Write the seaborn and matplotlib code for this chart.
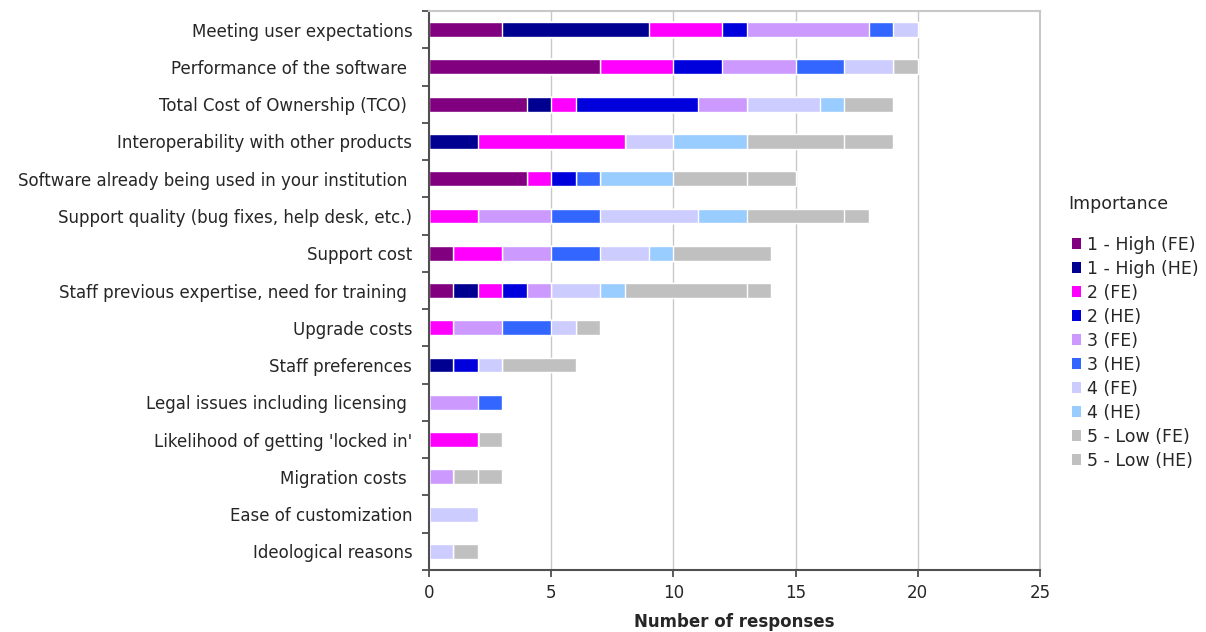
import numpy as np
import pandas as pd
import matplotlib
matplotlib.use("Agg")
import matplotlib.pyplot as plt
from matplotlib.patches import Patch
from matplotlib.ticker import FixedLocator
import seaborn as sns

categories = [
    "Meeting user expectations",
    "Performance of the software ",
    "Total Cost of Ownership (TCO) ",
    "Interoperability with other products",
    "Software already being used in your institution ",
    "Support quality (bug fixes, help desk, etc.)",
    "Support cost",
    "Staff previous expertise, need for training ",
    "Upgrade costs",
    "Staff preferences",
    "Legal issues including licensing ",
    "Likelihood of getting 'locked in'",
    "Migration costs ",
    "Ease of customization",
    "Ideological reasons",
]

series = ["1 - High (FE)", "1 - High (HE)", "2 (FE)", "2 (HE)", "3 (FE)",
          "3 (HE)", "4 (FE)", "4 (HE)", "5 - Low (FE)", "5 - Low (HE)"]

high_fe = [3, 7, 4, 0, 4, 0, 1, 1, 0, 0, 0, 0, 0, 0, 0]
high_he = [6, 0, 1, 2, 0, 0, 0, 1, 0, 1, 0, 0, 0, 0, 0]
two_fe = [3, 3, 1, 6, 1, 2, 2, 1, 1, 0, 0, 2, 0, 0, 0]
two_he = [1, 2, 5, 0, 1, 0, 0, 1, 0, 1, 0, 0, 0, 0, 0]
three_fe = [5, 3, 2, 0, 0, 3, 2, 1, 2, 0, 2, 0, 1, 0, 0]
three_he = [1, 2, 0, 0, 1, 2, 2, 0, 2, 0, 1, 0, 0, 0, 0]
four_fe = [1, 2, 3, 2, 0, 4, 2, 2, 1, 1, 0, 0, 0, 2, 1]
four_he = [0, 0, 1, 3, 3, 2, 1, 1, 0, 0, 0, 0, 0, 0, 0]
low_fe = [0, 1, 2, 4, 3, 4, 4, 5, 1, 3, 0, 1, 1, 0, 1]
low_he = [0, 0, 0, 2, 2, 1, 0, 1, 0, 0, 0, 0, 1, 0, 0]

colors = ["#800080", "#000090", "#FF00FF", "#0000DD", "#CC99FF",
          "#3366FF", "#CCCCFF", "#99CCFF", "#C0C0C0", "#C0C0C0"]

values = [high_fe, high_he, two_fe, two_he, three_fe,
          three_he, four_fe, four_he, low_fe, low_he]

# cumulative sums for stacked drawing
cum = np.cumsum(np.array(values), axis=0)
rows = []
for si, s in enumerate(series):
    for ci, c in enumerate(categories):
        rows.append({"category": c, "series": s, "cum": cum[si, ci]})
df = pd.DataFrame(rows)

sns.set_style("white")
plt.rcParams["font.family"] = ["DejaVu Sans"]

fig = plt.figure(figsize=(12.06, 6.32), dpi=100)
ax = fig.add_axes([429 / 1206, 1 - 570 / 632, (1040 - 429) / 1206, (570 - 11) / 632])

ax.set_axisbelow(True)
for v in [5, 10, 15, 20]:
    ax.axvline(v, color="#C8C8C8", lw=1.0, zorder=0)

palette = dict(zip(series, colors))
sns.barplot(data=df, y="category", x="cum", hue="series",
            hue_order=series[::-1], order=categories, palette=palette,
            dodge=False, width=0.4, orient="h", ax=ax, legend=False,
            edgecolor="white", linewidth=1.0, saturation=1, errorbar=None)

ax.set_xlim(0, 25)
ax.set_ylim(14.5, -0.5)
ax.set_xticks([0, 5, 10, 15, 20, 25])
ax.set_xticklabels(["0", "5", "10", "15", "20", "25"], fontsize=12)
ax.tick_params(axis="x", bottom=True, direction="out", length=5, width=1.2,
               color="#404040", pad=5)
ax.tick_params(axis="y", which="major", left=False, length=0, pad=12, labelsize=12)
ax.yaxis.set_minor_locator(FixedLocator(np.arange(-0.5, 15, 1.0)))
ax.tick_params(axis="y", which="minor", left=True, direction="out", length=5,
               width=1.2, color="#404040")
ax.set_ylabel("")
ax.set_xlabel("Number of responses", fontsize=12, fontweight="bold", labelpad=8)

for side in ["left", "bottom"]:
    ax.spines[side].set_color("#505050")
    ax.spines[side].set_linewidth(1.5)
for side in ["top", "right"]:
    ax.spines[side].set_visible(True)
    ax.spines[side].set_color("#C8C8C8")
    ax.spines[side].set_linewidth(1.5)

fig.text(1068 / 1206, 1 - 204 / 632, "Importance", fontsize=12.5,
         ha="left", va="center")
handles = [Patch(facecolor=c, edgecolor="none") for c in colors]
leg = fig.legend(handles, series, loc="upper left",
                 bbox_to_anchor=(1056 / 1206, 1 - 220 / 632), frameon=False,
                 fontsize=12.5, handlelength=0.55, handleheight=0.55,
                 handletextpad=0.35, labelspacing=0.345)

fig.savefig("out.png", dpi=100)
